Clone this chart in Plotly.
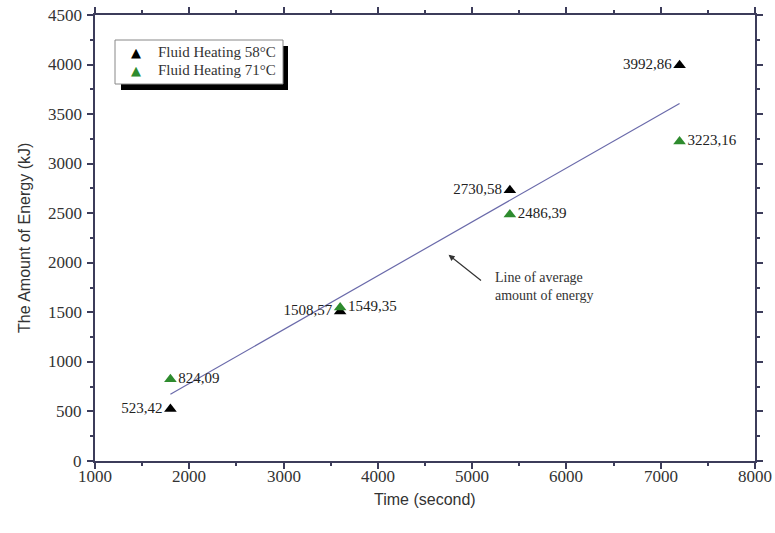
import plotly.graph_objects as go

time_s = [1800, 3600, 5400, 7200]
energy_58 = [523.42, 1508.57, 2730.58, 3992.86]
energy_71 = [824.09, 1549.35, 2486.39, 3223.16]
labels_58 = ["523,42", "1508,57", "2730,58", "3992,86"]
labels_71 = ["824,09", "1549,35", "2486,39", "3223,16"]
series_names = ["Fluid Heating 58°C", "Fluid Heating 71°C"]
series_colors = ["black", "#2e8b2e"]
x_ticks = [1000, 2000, 3000, 4000, 5000, 6000, 7000, 8000]
y_ticks = [0, 500, 1000, 1500, 2000, 2500, 3000, 3500, 4000, 4500]
avg_energy = [(a + b) / 2 for a, b in zip(energy_58, energy_71)]

serif = "Liberation Serif"
sans = "Liberation Sans"
axis_col = "#3c3c5a"

L, R, T, B = 95, 20, 15, 72
W, H = 775, 533
PW, PH = W - L - R, H - T - B


def px(xp):
    return (xp - L) / PW


def py(yp):
    return (H - B - yp) / PH


fig = go.Figure()
fig.add_trace(go.Scatter(
    x=[time_s[0], time_s[-1]], y=[avg_energy[0], avg_energy[-1]],
    mode="lines", line=dict(color="#6a6aaa", width=1.2),
    showlegend=False, hoverinfo="skip"))
for vals, labs, name, col, pos in [
        (energy_58, labels_58, series_names[0], series_colors[0], "middle left"),
        (energy_71, labels_71, series_names[1], series_colors[1], "middle right")]:
    fig.add_trace(go.Scatter(
        x=time_s, y=vals, mode="markers+text", name=name, showlegend=False,
        marker=dict(symbol="triangle-up", size=11, color=col),
        text=labs, textposition=pos,
        textfont=dict(family=serif, size=15, color="#222")))

fig.add_annotation(x=4750, y=2080, ax=5110, ay=1810, xref="x", yref="y",
                   axref="x", ayref="y", text="", showarrow=True,
                   arrowhead=2, arrowsize=1, arrowwidth=1.2, arrowcolor="#333")
fig.add_annotation(x=5220, y=1760, xref="x", yref="y", xanchor="left",
                   yanchor="middle", align="left", showarrow=False,
                   text="Line of average<br>amount of energy",
                   font=dict(family=serif, size=14, color="#333"))

# custom legend box with shadow
fig.add_shape(type="rect", xref="paper", yref="paper",
              x0=px(121), x1=px(288), y0=py(90), y1=py(46),
              fillcolor="black", line=dict(width=0), layer="above")
fig.add_shape(type="rect", xref="paper", yref="paper",
              x0=px(115), x1=px(283), y0=py(84), y1=py(40),
              fillcolor="white", line=dict(color="#888", width=1), layer="above")
for i, (name, col) in enumerate(zip(series_names, series_colors)):
    yrow = 52 + 18 * i
    fig.add_annotation(x=px(136), y=py(yrow), xref="paper", yref="paper",
                       text="▲", showarrow=False, xanchor="center", yanchor="middle",
                       font=dict(family="DejaVu Sans", size=13, color=col))
    fig.add_annotation(x=px(156), y=py(yrow), xref="paper", yref="paper",
                       text=name, showarrow=False, xanchor="left", yanchor="middle",
                       font=dict(family=serif, size=15, color="#333"))

# tick labels (serif) and axis titles (sans)
tick_font = dict(family=serif, size=17, color="#333")
for v in x_ticks:
    fig.add_annotation(x=v, y=0, xref="x", yref="paper", text=str(v), showarrow=False,
                       xanchor="center", yanchor="top", yshift=-4, font=tick_font)
for v in y_ticks:
    fig.add_annotation(x=0, y=v, xref="paper", yref="y", text=str(v), showarrow=False,
                       xanchor="right", yanchor="middle", xshift=-11, font=tick_font)
fig.add_annotation(x=0.5, y=py(499), xref="paper", yref="paper", text="Time (second)",
                   showarrow=False, xanchor="center", yanchor="middle",
                   font=dict(family=sans, size=16, color="#333"))
fig.add_annotation(x=px(24), y=0.5, xref="paper", yref="paper",
                   text="The Amount of Energy (kJ)", textangle=-90,
                   showarrow=False, xanchor="center", yanchor="middle",
                   font=dict(family=sans, size=16, color="#333"))

fig.update_layout(
    width=W, height=H, margin=dict(l=L, r=R, t=T, b=B),
    font=dict(family=serif, color="#333"),
    paper_bgcolor="white", plot_bgcolor="white",
    showlegend=False,
    xaxis=dict(
        range=[1000, 8000], tickvals=x_ticks, showticklabels=False, automargin=False,
        showline=True, linecolor=axis_col, linewidth=1.5, mirror="ticks",
        ticks="outside", ticklen=6, tickcolor=axis_col, tickwidth=1.5,
        showgrid=False, zeroline=False,
        minor=dict(dtick=500, ticks="outside", ticklen=3, tickcolor=axis_col)),
    yaxis=dict(
        range=[0, 4500], tickvals=y_ticks, showticklabels=False, automargin=False,
        showline=True, linecolor=axis_col, linewidth=1.5, mirror="ticks",
        ticks="outside", ticklen=6, tickcolor=axis_col, tickwidth=1.5,
        showgrid=False, zeroline=False,
        minor=dict(dtick=250, ticks="outside", ticklen=3, tickcolor=axis_col)),
)

fig.write_html("out.html")
